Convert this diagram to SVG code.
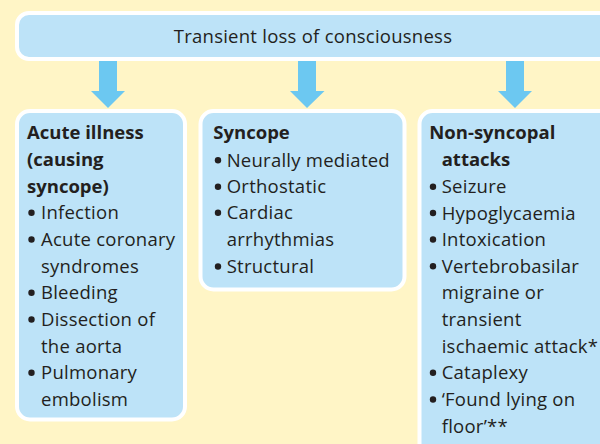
<svg xmlns="http://www.w3.org/2000/svg" width="600" height="444" viewBox="0 0 600 444">
<style>
.box{fill:#BDE3F8;stroke:#FFFFFF;stroke-width:4}
.arr{fill:#6CC8F1}
text{font-family:"Open Sans","Noto Sans","Liberation Sans",sans-serif;font-size:18.5px;letter-spacing:0.25px;fill:#231F20}
.b{font-weight:700;letter-spacing:0}
.dot{fill:#231F20}
</style>
<rect width="600" height="444" fill="#FFF5C6"/>
<g id="connectors">
<path class="arr" d="M99,61 H117 V91 H125 L108,108 L91,91 H99 Z"/>
<path class="arr" d="M298,61 H316 V91 H324.5 L307,108 L290,91 H298 Z"/>
<path class="arr" d="M506,61 H524 V91 H532 L515,108 L498,91 H506 Z"/>
</g>
<g id="top">
<rect class="box" x="17" y="13" width="600" height="46" rx="12"/>
<text x="313" y="43" text-anchor="middle">Transient loss of consciousness</text>
</g>
<g id="acute">
<rect class="box" x="17" y="111" width="168" height="308.5" rx="13"/>
<text class="b" x="27" y="139.3">Acute illness</text>
<text class="b" x="27" y="166">(causing</text>
<text class="b" x="27" y="192.7">syncope)</text>
<circle class="dot" cx="31.5" cy="212.8" r="3.2"/><text x="41" y="219.3">Infection</text>
<circle class="dot" cx="31.5" cy="239.5" r="3.2"/><text x="41" y="246">Acute coronary</text>
<text x="41" y="272.7">syndromes</text>
<circle class="dot" cx="31.5" cy="292.8" r="3.2"/><text x="41" y="299.3">Bleeding</text>
<circle class="dot" cx="31.5" cy="319.5" r="3.2"/><text x="41" y="326">Dissection of</text>
<text x="41" y="352.7">the aorta</text>
<circle class="dot" cx="31.5" cy="372.8" r="3.2"/><text x="41" y="379.3">Pulmonary</text>
<text x="41" y="406">embolism</text>
</g>
<g id="syncope">
<rect class="box" x="200.5" y="111" width="204" height="178.5" rx="13"/>
<text class="b" x="213.3" y="139.3">Syncope</text>
<circle class="dot" cx="218" cy="160.2" r="3.2"/><text x="226.7" y="166.7">Neurally mediated</text>
<circle class="dot" cx="218" cy="186.8" r="3.2"/><text x="226.7" y="193.3">Orthostatic</text>
<circle class="dot" cx="218" cy="212.8" r="3.2"/><text x="226.7" y="219.3">Cardiac</text>
<text x="226.7" y="246">arrhythmias</text>
<circle class="dot" cx="218" cy="266.5" r="3.2"/><text x="226.7" y="273">Structural</text>
</g>
<g id="nonsyncopal">
<rect class="box" x="419.5" y="111" width="200" height="350" rx="13"/>
<text class="b" x="429.3" y="139.3">Non-syncopal</text>
<text class="b" x="441.7" y="166">attacks</text>
<circle class="dot" cx="433" cy="186.8" r="3.2"/><text x="441.7" y="193.3">Seizure</text>
<circle class="dot" cx="433" cy="213" r="3.2"/><text x="441.7" y="219.5">Hypoglycaemia</text>
<circle class="dot" cx="433" cy="239.5" r="3.2"/><text x="441.7" y="246">Intoxication</text>
<circle class="dot" cx="433" cy="266.2" r="3.2"/><text x="441.7" y="272.7">Vertebrobasilar</text>
<text x="441.7" y="299.3">migraine or</text>
<text x="441.7" y="326">transient</text>
<text x="441.7" y="352.7">ischaemic attack*</text>
<circle class="dot" cx="433" cy="372.8" r="3.2"/><text x="441.7" y="379.3">Cataplexy</text>
<circle class="dot" cx="433" cy="399.5" r="3.2"/><text x="441.7" y="406">‘Found lying on</text>
<text x="441.7" y="432.7">floor’**</text>
</g>
</svg>
